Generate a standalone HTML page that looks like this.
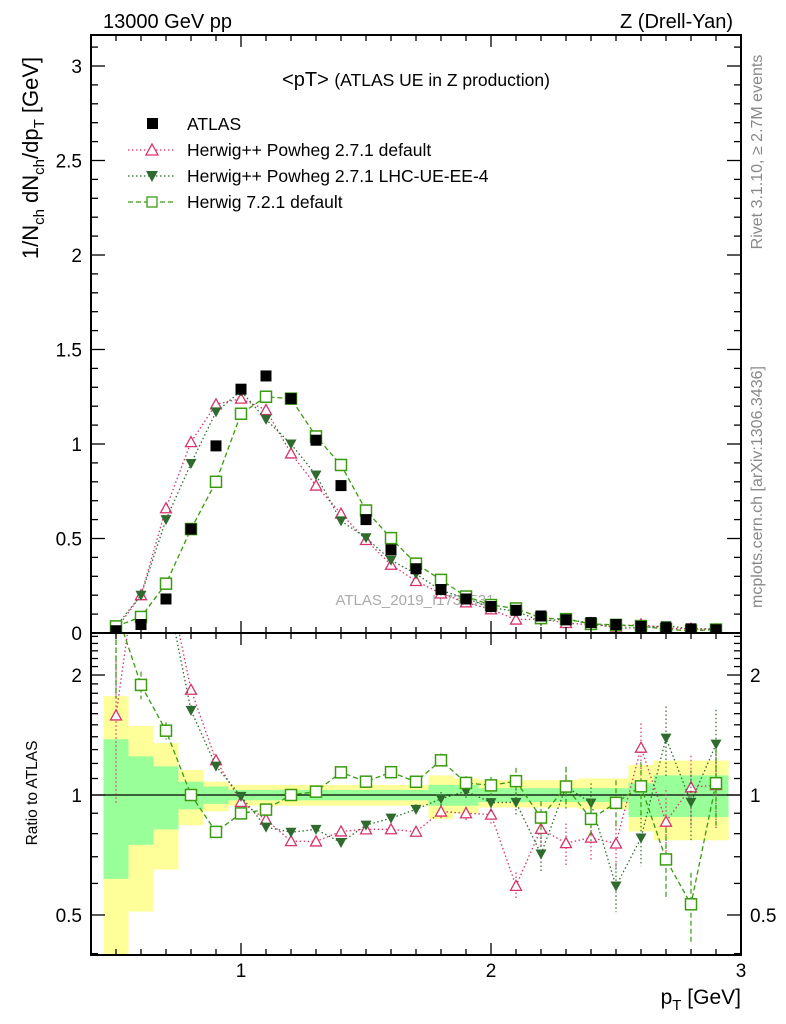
<!DOCTYPE html>
<html><head><meta charset="utf-8"><style>
html,body{margin:0;padding:0;background:#fff;}
svg{display:block;font-family:"Liberation Sans",sans-serif;}
</style></head><body>
<svg id="c" width="786" height="1024" viewBox="0 0 786 1024" xmlns="http://www.w3.org/2000/svg">
<text x="103" y="28" font-size="20">13000 GeV pp</text>
<text x="733" y="28" font-size="20" text-anchor="end">Z (Drell-Yan)</text>
<text x="416" y="86" font-size="20" text-anchor="middle">&lt;pT&gt; <tspan font-size="17.5">(ATLAS UE in Z production)</tspan></text>
<text transform="translate(762,152) rotate(-90)" font-size="16" fill="#888" text-anchor="middle">Rivet 3.1.10, ≥ 2.7M events</text>
<text transform="translate(762,487) rotate(-90)" font-size="16" fill="#888" text-anchor="middle">mcplots.cern.ch [arXiv:1306.3436]</text>
<text x="415" y="605" font-size="15" fill="#aaa" text-anchor="middle">ATLAS_2019_I1736531</text>
<text transform="translate(38,158) rotate(-90)" font-size="22" text-anchor="middle">1/N<tspan font-size="15" dy="6">ch</tspan><tspan dy="-6"> dN</tspan><tspan font-size="15" dy="6">ch</tspan><tspan dy="-6">/dp</tspan><tspan font-size="15" dy="6">T</tspan><tspan dy="-6"> [GeV]</tspan></text>
<text transform="translate(37,793) rotate(-90)" font-size="15.5" text-anchor="middle">Ratio to ATLAS</text>
<text x="741" y="1004" font-size="21" text-anchor="end">p<tspan font-size="15" dy="6">T</tspan><tspan dy="-6"> [GeV]</tspan></text>
<g id="legend">
<g><rect x="147" y="118" width="11" height="11" fill="#000"/><text x="187" y="130" font-size="17.5">ATLAS</text></g>
<g><line x1="128" y1="150" x2="176" y2="150" stroke="#d6336c" stroke-dasharray="1.5,2.5" stroke-width="1.3"/><polygon points="152,144 158,155 146,155" fill="#fff" stroke="#d6336c" stroke-width="1.3"/><text x="187" y="156" font-size="17.5">Herwig++ Powheg 2.7.1 default</text></g>
<g><line x1="128" y1="176" x2="176" y2="176" stroke="#2f6b2f" stroke-dasharray="1.5,2.5" stroke-width="1.3"/><polygon points="146,171 158,171 152,182" fill="#2f6b2f"/><text x="187" y="182" font-size="17.5">Herwig++ Powheg 2.7.1 LHC-UE-EE-4</text></g>
<g><line x1="128" y1="202" x2="176" y2="202" stroke="#3a9a10" stroke-dasharray="5,3" stroke-width="1.3"/><rect x="147" y="197" width="10" height="10" fill="#fff" stroke="#3a9a10" stroke-width="1.3"/><text x="187" y="208" font-size="17.5">Herwig 7.2.1 default</text></g>
</g>
<g id="plot"></g>
</svg>
<script>
const pts = [0.5,0.6,0.7,0.8,0.9,1.0,1.1,1.2,1.3,1.4,1.5,1.6,1.7,1.8,1.9,2.0,2.1,2.2,2.3,2.4,2.5,2.6,2.7,2.8,2.9];
const atlas = [0.012,0.045,0.18,0.55,0.99,1.29,1.36,1.24,1.02,0.78,0.60,0.44,0.34,0.23,0.18,0.14,0.12,0.09,0.07,0.055,0.045,0.035,0.028,0.022,0.017];
const powhegDef = [0.019,0.2,0.66,1.01,1.21,1.24,1.18,0.95,0.78,0.632,0.492,0.361,0.275,0.209,0.162,0.125,0.071,0.074,0.053,0.043,0.034,0.046,0.024,0.023,0.018];
const powhegUE = [0.035,0.2,0.6,0.897,1.17,1.28,1.13,1.0,0.836,0.593,0.504,0.385,0.313,0.225,0.184,0.134,0.115,0.064,0.0735,0.0525,0.0266,0.0273,0.0389,0.0211,0.0228];
const herwig7 = [0.035,0.085,0.261,0.55,0.80,1.16,1.25,1.24,1.04,0.889,0.648,0.502,0.367,0.281,0.193,0.148,0.130,0.079,0.0735,0.0479,0.043,0.0368,0.0193,0.0117,0.0182];
const relErr = [0.4,0.08,0.05,0.03,0.02,0.015,0.015,0.015,0.02,0.02,0.02,0.02,0.03,0.04,0.04,0.05,0.08,0.1,0.12,0.12,0.14,0.15,0.2,0.2,0.22];
const greenHi = [1.38,1.25,1.18,1.08,1.05,1.03,1.03,1.03,1.03,1.03,1.03,1.03,1.03,1.06,1.06,1.04,1.04,1.04,1.04,1.04,1.04,1.07,1.12,1.12,1.12];
const greenLo = [0.616,0.75,0.82,0.92,0.95,0.97,0.97,0.97,0.97,0.97,0.97,0.97,0.97,0.94,0.94,0.96,0.96,0.96,0.96,0.96,0.96,0.88,0.88,0.88,0.88];
const yellowHi = [1.77,1.49,1.35,1.155,1.08,1.06,1.06,1.06,1.06,1.06,1.06,1.06,1.06,1.12,1.1,1.09,1.09,1.09,1.09,1.1,1.1,1.19,1.22,1.22,1.22];
const yellowLo = [0.3,0.51,0.65,0.84,0.91,0.94,0.94,0.94,0.94,0.94,0.94,0.94,0.94,0.87,0.9,0.93,0.93,0.93,0.93,0.92,0.92,0.81,0.77,0.77,0.77];
const mainTicks = ["0","0.5","1","1.5","2","2.5","3"];
const ratioTicks = ["0.5","1","2"];
const xTicks = ["1","2","3"];

const NS="http://www.w3.org/2000/svg";
const L=91,R=741,T=35,M=633,B=955;
const X=v=>L+(v-0.4)*250;
const Y=v=>M-v*189;
const RY=v=>795-Math.log10(v)*398.6;
const g=document.getElementById('plot');
function el(tag,attrs,parent){const e=document.createElementNS(NS,tag);for(const k in attrs)e.setAttribute(k,attrs[k]);(parent||g).appendChild(e);return e;}
const clipD=el('defs',{});
const cp1=el('clipPath',{id:'cm'},clipD);el('rect',{x:L,y:T,width:R-L,height:M-T},cp1);
const cp2=el('clipPath',{id:'cr'},clipD);el('rect',{x:L,y:M,width:R-L,height:B-M},cp2);

const bandG=el('g',{'clip-path':'url(#cr)'});


pts.forEach((p,i)=>{
  const x0=X(p-0.05),x1=X(p+0.05);
  const yb=el('rect',{x:x0,y:RY(yellowHi[i]),width:x1-x0,height:RY(yellowLo[i])-RY(yellowHi[i]),fill:'#ffff99'},bandG);
  
  
  const gb=el('rect',{x:x0,y:RY(greenHi[i]),width:x1-x0,height:RY(greenLo[i])-RY(greenHi[i]),fill:'#99ff99'},bandG);
  
  
});
el('line',{x1:L,y1:RY(1),x2:R,y2:RY(1),stroke:'#000','stroke-width':1.3});

const series=[
 {name:'powheg-default',vals:powhegDef,col:'#d6336c',dash:'1.5,2.5',mk:'tri'},
 {name:'powheg-lhc-ue',vals:powhegUE,col:'#2f6b2f',dash:'1.5,2.5',mk:'tdn'},
 {name:'herwig7',vals:herwig7,col:'#3a9a10',dash:'5,3',mk:'sq'}
];
function marker(par,mk,x,y,col){
  let m;
  if(mk==='tri') m=el('polygon',{points:`${x},${y-5.5} ${x+5.5},${y+4.5} ${x-5.5},${y+4.5}`,fill:'#fff',stroke:col,'stroke-width':1.3},par);
  else if(mk==='tdn') m=el('polygon',{points:`${x-5.5},${y-4.5} ${x+5.5},${y-4.5} ${x},${y+5.5}`,fill:col},par);
  else if(mk==='sq') m=el('rect',{x:x-5.5,y:y-5.5,width:11,height:11,fill:'#fff',stroke:col,'stroke-width':1.5},par);
  else m=el('rect',{x:x-5.5,y:y-5.5,width:11,height:11,fill:'#000'},par);
  return m;
}
function drawPanel(clip,yf,getv,panel){
  series.forEach(s=>{
    const sg=el('g',{'clip-path':clip});
    
    
    const vals=pts.map((p,i)=>getv(s.vals,i));
    el('polyline',{points:pts.map((p,i)=>X(p)+','+yf(vals[i])).join(' '),fill:'none',stroke:s.col,'stroke-width':1.3,'stroke-dasharray':s.dash},sg);
    pts.forEach((p,i)=>{
      if(panel==='ratio'){
        const e=relErr[i]*vals[i];
        el('line',{x1:X(p),y1:yf(vals[i]+e),x2:X(p),y2:yf(Math.max(vals[i]-e,0.05)),stroke:s.col,'stroke-width':1.2,'stroke-dasharray':s.dash},sg);
      }
      const m=marker(sg,s.mk,X(p),yf(vals[i]),s.col);
      
      
    });
  });
}
const ag=el('g',{'clip-path':'url(#cm)'});


drawPanel('url(#cm)',Y,(v,i)=>v[i],'main');
pts.forEach((p,i)=>{const m=marker(ag,'data',X(p),Y(atlas[i]));
 
 });
g.appendChild(ag);
drawPanel('url(#cr)',RY,(v,i)=>v[i]/atlas[i],'ratio');

el('rect',{x:L,y:T,width:R-L,height:M-T,fill:'none',stroke:'#000','stroke-width':2});
el('rect',{x:L,y:M,width:R-L,height:B-M,fill:'none',stroke:'#000','stroke-width':2});
for(let k=5;k<=29;k++){
  const v=k/10,x=X(v),maj=(k%10===0),len=maj?12:6;
  [[M,-1],[T,1],[B,-1],[M,1]].forEach(([y0,d])=>el('line',{x1:x,y1:y0,x2:x,y2:y0+d*len,stroke:'#000','stroke-width':1.3}));
}
xTicks.forEach(t=>{const tx=el('text',{x:X(+t),y:977,'font-size':19,'text-anchor':'middle'});tx.textContent=t;
 
 });
for(let k=0;k<=31;k++){
  const v=k/10,y=Y(v),maj=(k%5===0),len=maj?14:7;
  el('line',{x1:L,y1:y,x2:L+len,y2:y,stroke:'#000','stroke-width':1.3});
  el('line',{x1:R,y1:y,x2:R-len,y2:y,stroke:'#000','stroke-width':1.3});
}
mainTicks.forEach(t=>{const tx=el('text',{x:82,y:Y(+t)+7,'font-size':19,'text-anchor':'end'});tx.textContent=t;
 
 });
const rt=[0.4,0.5,0.6,0.7,0.8,0.9,1,1.1,1.2,1.3,1.4,1.5,1.6,1.7,1.8,1.9,2,2.1,2.2,2.3,2.4,2.5];
rt.forEach(v=>{const y=RY(v),maj=(v===0.5||v===1||v===2),len=maj?14:7;
  el('line',{x1:L,y1:y,x2:L+len,y2:y,stroke:'#000','stroke-width':1.3});
  el('line',{x1:R,y1:y,x2:R-len,y2:y,stroke:'#000','stroke-width':1.3});});
ratioTicks.forEach(t=>{
 const a=el('text',{x:82,y:RY(+t)+7,'font-size':19,'text-anchor':'end'});a.textContent=t;
 
 
 const b=el('text',{x:750,y:RY(+t)+7,'font-size':19});b.textContent=t;
 
 
});
</script>
</body></html>
